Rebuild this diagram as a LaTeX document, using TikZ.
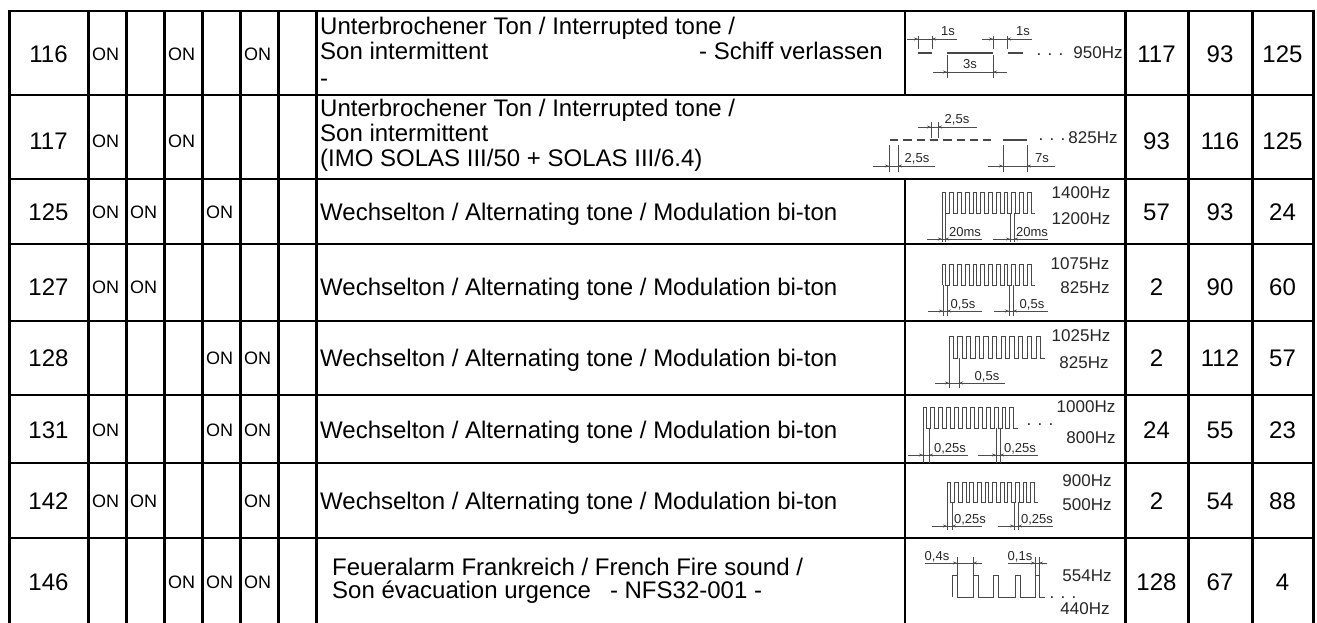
\documentclass[tikz,border=0pt]{standalone}
\usepackage{fontspec}
\setmainfont{Liberation Sans}
\usetikzlibrary{arrows.meta}
\newcounter{dimc}
% x1 x2 ytop ybot yline xleft xright labelx label
\newcommand\dimm[9]{%
  \draw[dimln] (#1,#3) -- (#1,#4) (#2,#3) -- (#2,#4);
  \draw[dimln] (#6,#5) -- (#7,#5);
  \draw[dimln,-{Stealth[length=4pt,width=3pt]}] (#6,#5) -- (#1,#5);
  \draw[dimln,-{Stealth[length=4pt,width=3pt]}] (#7,#5) -- (#2,#5);
  \stepcounter{dimc}%
  \node[dimlbl] (dl\arabic{dimc}) at (#8,#5-3) {#9};
}
% x0 ytop ybot n period
\newcommand\sqwave[5]{%
  \pgfmathsetmacro\wH{#3-#2}%
  \pgfmathsetmacro\wh{#5/2}%
  \draw[wave] (#1,#3) \foreach \i in {1,...,#4}{ -- ++(0,-\wH) -- ++(\wh,0) -- ++(0,\wH) -- ++(\wh,0) };
}
\begin{document}
\begin{tikzpicture}[x=1pt,y=-1pt,
  vl/.style={line width=3pt},
  hl/.style={line width=2pt},
  sepl/.style={line width=1.6pt},
  wave/.style={line width=1pt,draw=black!72},
  tone/.style={line width=1.6pt,draw=black!72},
  dimln/.style={line width=0.6pt,draw=black!70},
  dimlbl/.style={anchor=base,inner sep=0pt,font=\fontsize{13}{13}\selectfont,text=black!85},
  num/.style={anchor=base,inner sep=0pt,font=\fontsize{24}{25}\selectfont},
  onl/.style={anchor=base west,inner sep=0pt,font=\fontsize{18}{18}\selectfont},
  desc/.style={anchor=base west,inner sep=0pt,font=\fontsize{24}{25}\selectfont},
  hz/.style={anchor=base,inner sep=0pt,font=\fontsize{17}{17}\selectfont,text=black!85},
]
\useasboundingbox (0,0) rectangle (1317,623);

% grid
\foreach \x in {9,88,126,164,202,240,278,316,1125,1188,1252,1313}
  \draw[vl] (\x,10) -- (\x,623);
\foreach \y in {11,95,179,244,321,395,463,538}
  \draw[hl] (7.5,\y) -- (1314.5,\y);
\draw[sepl] (905,11) -- (905,95);
\draw[sepl] (905,179) -- (905,623);

% numbers
\foreach \id/\c/\a/\b/\d in {116/54/117/93/125, 117/141/93/116/125, 125/212/57/93/24,
   127/287/2/90/60, 128/358/2/112/57, 131/430/24/55/23, 142/501/2/54/88, 146/582/128/67/4}{
  \node[num] (n\id) at (48.5,\c+8.6) {\id};
  \node[num] (ra\id) at (1156.5,\c+8.6) {\a};
  \node[num] (rb\id) at (1220,\c+8.6) {\b};
  \node[num] (rc\id) at (1282.5,\c+8.6) {\d};
}

% ON switches
\foreach \id/\c/\col in {116/54/88, 116/54/164, 116/54/240,
   117/141/88, 117/141/164,
   125/212/88, 125/212/126, 125/212/202,
   127/287/88, 127/287/126,
   128/358/202, 128/358/240,
   131/430/88, 131/430/202, 131/430/240,
   142/501/88, 142/501/126, 142/501/240,
   146/582/164, 146/582/202, 146/582/240}{
  \node[onl] (on\id-\col) at (\col+4,\c+6.4) {ON};
}

% descriptions
\node[desc] (t116a) at (320,35) {Unterbrochener Ton / Interrupted tone /};
\node[desc] (t116b) at (320,60) {Son intermittent};
\node[desc,anchor=base east] (t116c) at (883,60) {- Schiff verlassen};
\node[desc] (t116d) at (320,87) {-};
\node[desc] (t117a) at (320,117) {Unterbrochener Ton / Interrupted tone /};
\node[desc] (t117b) at (320,142) {Son intermittent};
\node[desc] (t117c) at (320,166) {(IMO SOLAS III/50 + SOLAS III/6.4)};
\foreach \id/\c in {125/212, 127/287, 128/358, 131/430, 142/501}
  \node[desc] (t\id) at (320,\c+8.6) {Wechselton / Alternating tone / Modulation bi-ton};
\node[desc] (t146a) at (332,575) {Feueralarm Frankreich / French Fire sound /};
\node[desc] (t146b) at (332,598) {Son évacuation urgence\hspace{19pt}- NFS32-001 -};

% row 116
\draw[tone] (918,53) -- (932,53) (947,53) -- (993,53) (1008,53) -- (1023,53);
\dimm{918}{932}{36}{49}{39}{907}{957}{948}{1s}
\dimm{993}{1007}{36}{49}{39}{982}{1032}{1023}{1s}
\dimm{947}{993}{55}{78}{72}{933}{1007}{970}{3s}
\node[hz] (d116) at (1050,56) {. . .};
\node[hz] (f116) at (1098,59) {950Hz};

% row 117
\draw[tone,dash pattern=on 8.3pt off 5pt] (890,140) -- (992,140);
\draw[tone] (1003,140) -- (1027,140);
\dimm{931}{938}{122}{138}{127}{918}{977}{957}{2,5s}
\dimm{889}{898}{145}{172}{166}{873}{935}{917}{2,5s}
\dimm{1003}{1027}{145}{172}{166}{988}{1055}{1042}{7s}
\node[hz] (d117) at (1052,141) {. . .};
\node[hz] (f117) at (1093,144) {825Hz};

% row 125
\sqwave{942}{192}{213}{12}{7.75}
\dimm{942}{945}{213}{242}{239}{927}{982}{965}{20ms}
\dimm{1010}{1014}{213}{242}{239}{993}{1048}{1032}{20ms}
\node[hz] (f125a) at (1081,198) {1400Hz};
\node[hz] (f125b) at (1081,224) {1200Hz};

% row 127
\sqwave{942}{264}{285}{12}{7.75}
\dimm{943}{947}{285}{316}{311}{928}{982}{963}{0,5s}
\dimm{1009}{1013}{285}{316}{311}{994}{1048}{1032}{0,5s}
\node[hz] (f127a) at (1080,269) {1075Hz};
\node[hz] (f127b) at (1085,293) {825Hz};

% row 128
\sqwave{949}{336}{358}{11}{8.7}
\dimm{949}{959}{358}{388}{383}{935}{1005}{987}{0,5s}
\node[hz] (f128a) at (1081,341) {1025Hz};
\node[hz] (f128b) at (1084,368) {825Hz};

% row 131
\sqwave{923}{407}{428}{12}{7.9}
\node[hz] (d131) at (1040,425) {. . .};
\dimm{923}{929}{428}{463}{455}{908}{968}{950}{0,25s}
\dimm{996}{1000}{428}{463}{455}{978}{1038}{1020}{0,25s}
\node[hz] (f131a) at (1086,412) {1000Hz};
\node[hz] (f131b) at (1091,443) {800Hz};

% row 142
\sqwave{947}{482}{502}{12}{7.6}
\dimm{947}{952}{502}{530}{526}{932}{982}{970}{0,25s}
\dimm{1014}{1018}{502}{530}{526}{998}{1053}{1037}{0,25s}
\node[hz] (f142a) at (1087,486) {900Hz};
\node[hz] (f142b) at (1087,510) {500Hz};

% row 146
\draw[wave] (952,597) -- (952,575) -- (957,575) -- (957,597) -- (973,597) -- (973,575)
  -- (978,575) -- (978,597) -- (993,597) -- (993,575) -- (998,575) -- (998,597)
  -- (1015,597) -- (1015,575) -- (1020,575) -- (1020,597) -- (1035,597) -- (1035,575)
  -- (1039,575) -- (1039,597) -- (1045,597);
\node[hz] (d146) at (1063,598) {. . .};
\dimm{957}{973}{557}{575}{563}{925}{982}{937}{0,4s}
\dimm{1035}{1039}{557}{575}{563}{1008}{1047}{1020}{0,1s}
\node[hz] (f146a) at (1087,581) {554Hz};
\node[hz] (f146b) at (1085,614) {440Hz};
\end{tikzpicture}
\end{document}
